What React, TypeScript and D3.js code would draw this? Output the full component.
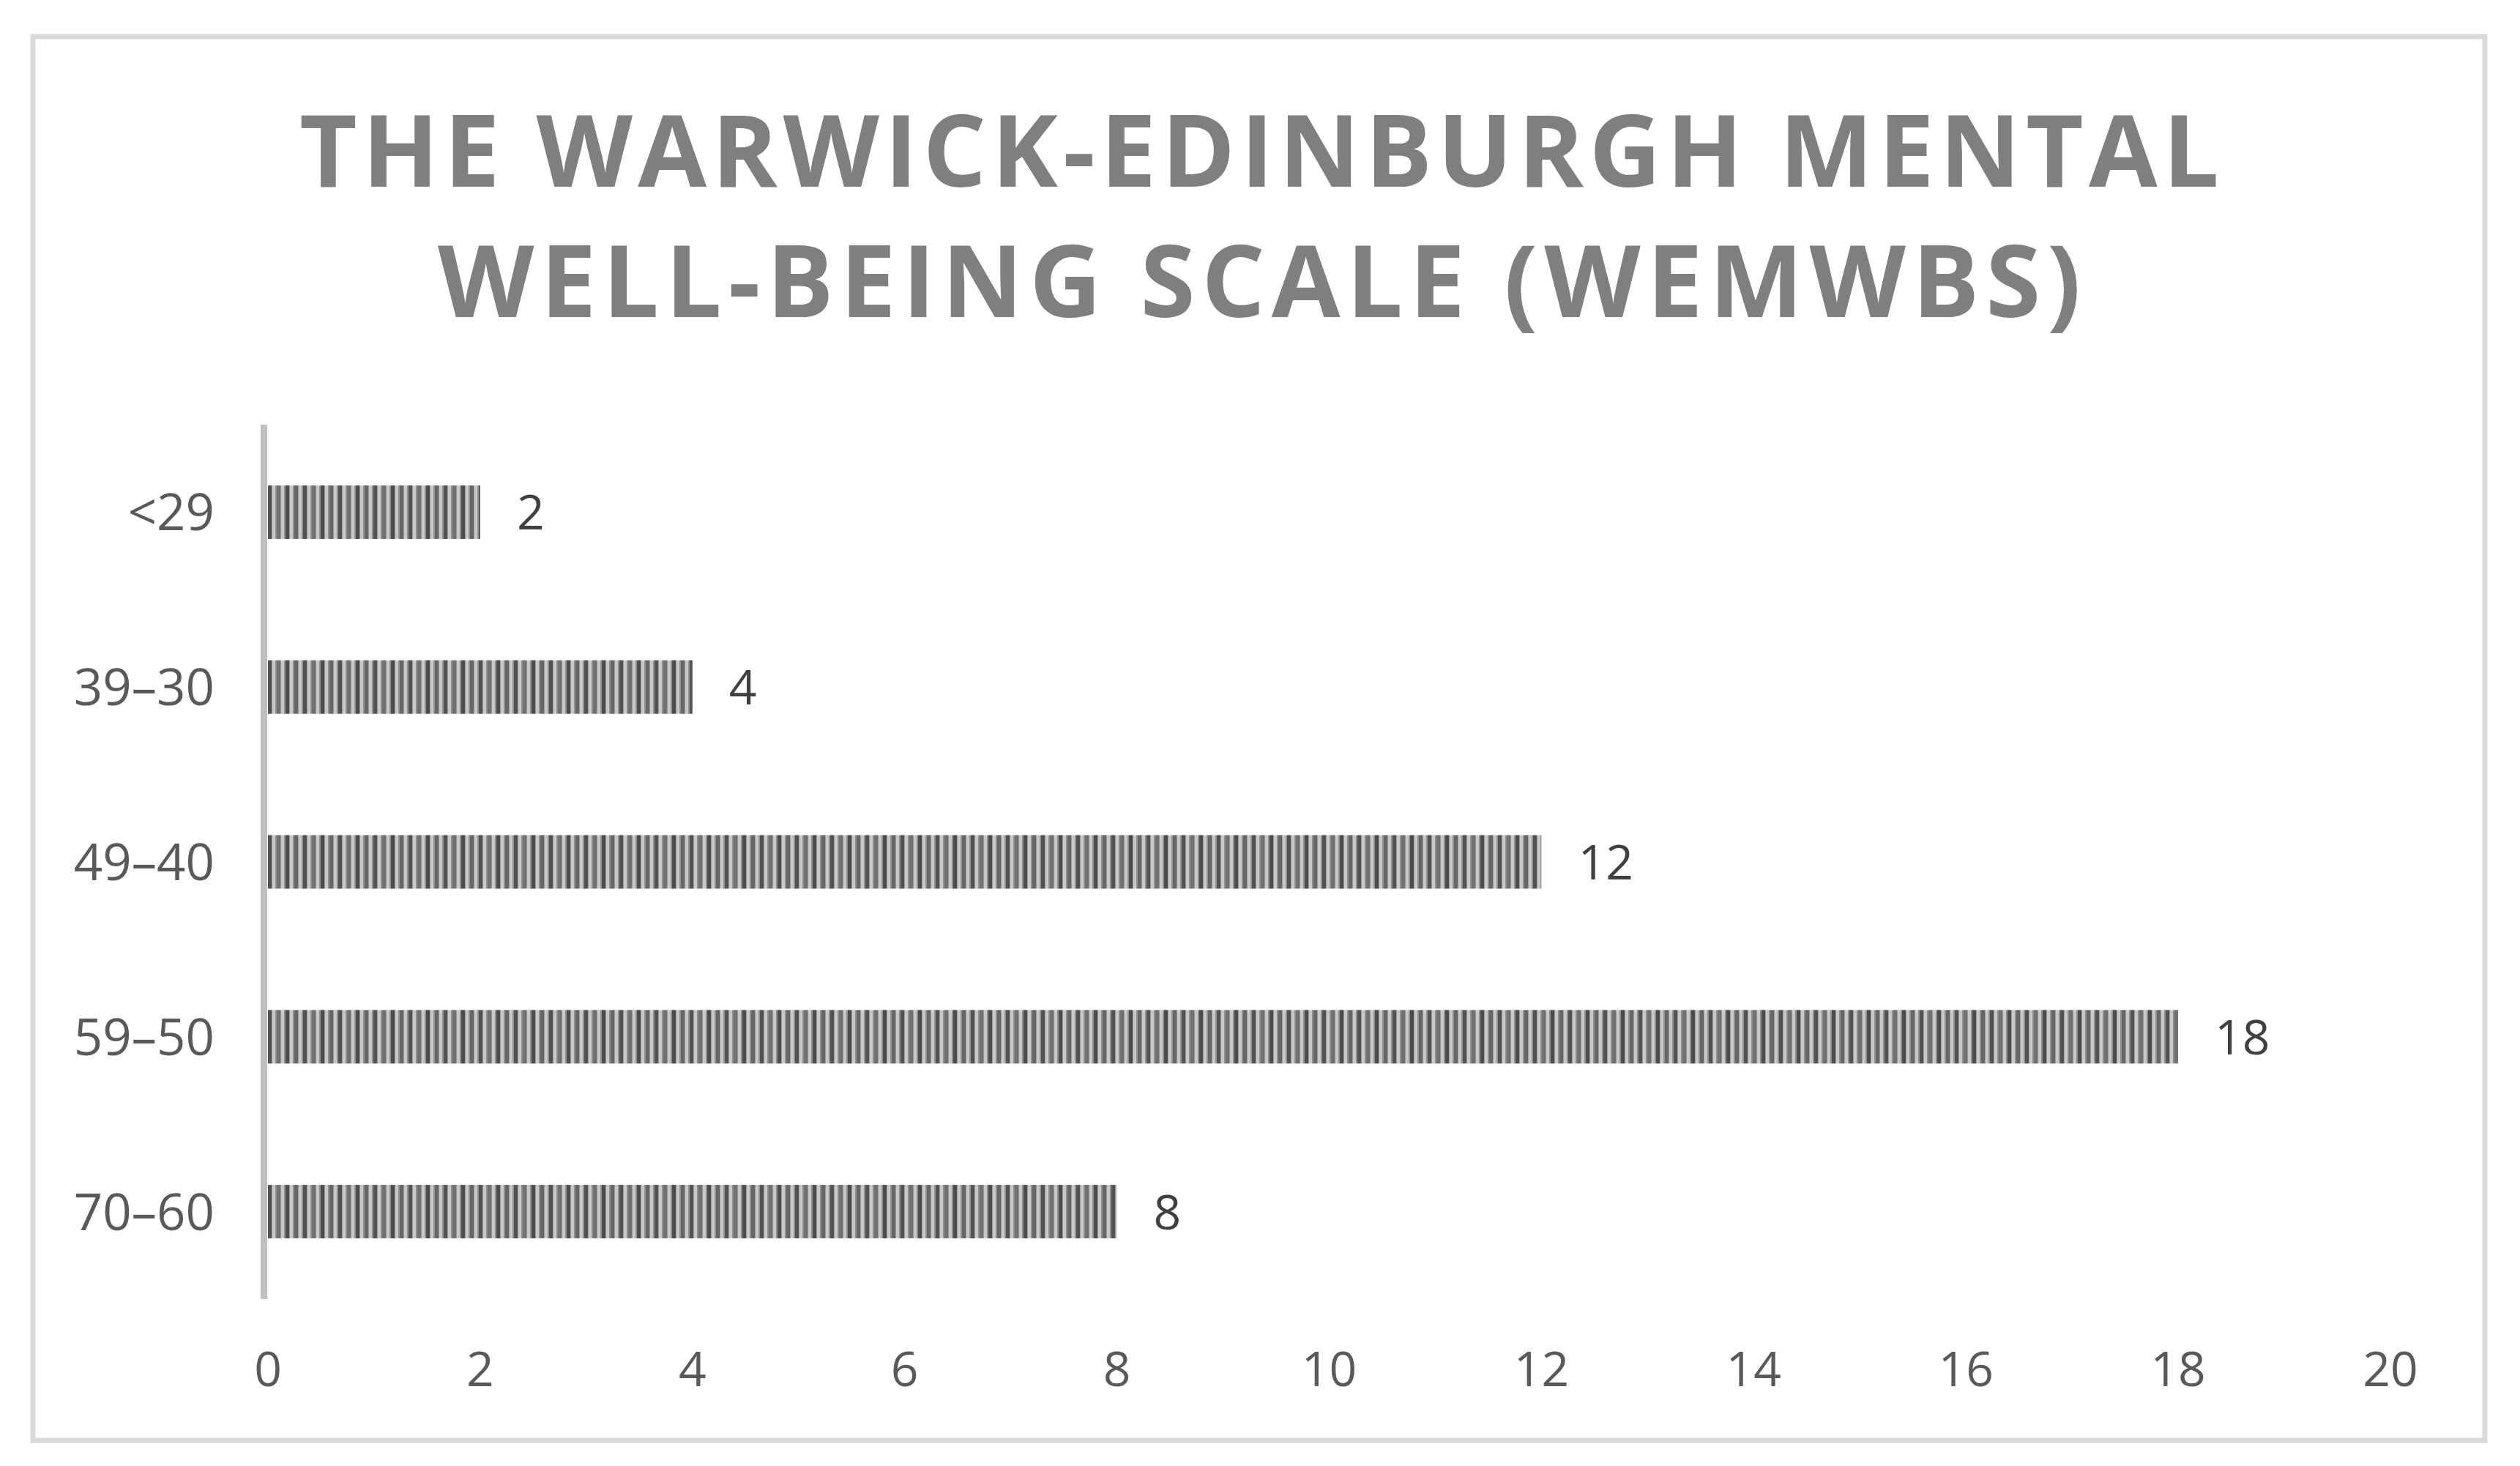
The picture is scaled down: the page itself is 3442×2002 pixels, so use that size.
import React from "react";
import * as d3 from "d3";

const categories: string[] = ["<29", "39–30", "49–40", "59–50", "70–60"];
const values: number[] = [2, 4, 12, 18, 8];
const xTicks: number[] = [0, 2, 4, 6, 8, 10, 12, 14, 16, 18, 20];
const titleLines: string[] = ["THE WARWICK-EDINBURGH MENTAL", "WELL-BEING SCALE (WEMWBS)"];

const W = 3442;
const H = 2002;

export default function App() {
  const x = d3.scaleLinear().domain([0, 20]).range([366, 3265]);
  const y = d3
    .scaleBand<string>()
    .domain(categories)
    .range([580, 1774])
    .paddingInner(0.694)
    .paddingOuter(0.347);

  const font = "'Open Sans', 'DejaVu Sans', sans-serif";
  const stripeColors = ["#4c4c4c", "#666666", "#525252", "#717171"];
  const period = 12;

  return (
    <svg
      width={W}
      height={H}
      style={{ position: "absolute", left: 0, top: 0, background: "#ffffff" }}
    >
      <defs>
        <pattern
          id="vstripes"
          patternUnits="userSpaceOnUse"
          width={period * stripeColors.length}
          height={20}
        >
          <rect width={period * stripeColors.length} height={20} fill="#c8c8c8" />
          {stripeColors.map((c, i) => (
            <g key={i}>
              <rect x={i * period + 6} y={0} width={5} height={20} fill={c} />
              <rect x={i * period + 4} y={0} width={2} height={20} fill="#909090" />
              <rect x={i * period + 11} y={0} width={1} height={20} fill="#9c9c9c" />
            </g>
          ))}
        </pattern>
      </defs>

      <rect x={45} y={50} width={3349} height={1917} fill="#ffffff" stroke="#d9d9d9" strokeWidth={7} />

      {titleLines.map((t, i) => (
        <text
          key={i}
          x={1720}
          y={i === 0 ? 255 : 433}
          textAnchor="middle"
          fontFamily={font}
          fontWeight={700}
          fontSize={136}
          fill="#7f7f7f"
          textLength={i === 0 ? 2622 : 2244}
          lengthAdjust="spacing"
        >
          {t}
        </text>
      ))}

      {categories.map((c, i) => {
        const yc = (y(c) as number) + y.bandwidth() / 2;
        return (
          <g key={c}>
            <rect
              x={x(0)}
              y={y(c)}
              width={x(values[i]) - x(0)}
              height={y.bandwidth()}
              fill="url(#vstripes)"
            />
            <text
              x={x(values[i]) + 50}
              y={yc + 24}
              fontFamily={font}
              fontSize={66}
              fill="#404040"
            >
              {values[i]}
            </text>
            <text
              x={293}
              y={yc + 25}
              textAnchor="end"
              fontFamily={font}
              fontSize={69}
              fill="#595959"
            >
              {c}
            </text>
          </g>
        );
      })}

      <line x1={x(0) - 5.5} x2={x(0) - 5.5} y1={580} y2={1774} stroke="#bfbfbf" strokeWidth={9} />

      {xTicks.map((t) => (
        <text
          key={t}
          x={x(t)}
          y={1893}
          textAnchor="middle"
          fontFamily={font}
          fontSize={66}
          fill="#595959"
        >
          {t}
        </text>
      ))}
    </svg>
  );
}
